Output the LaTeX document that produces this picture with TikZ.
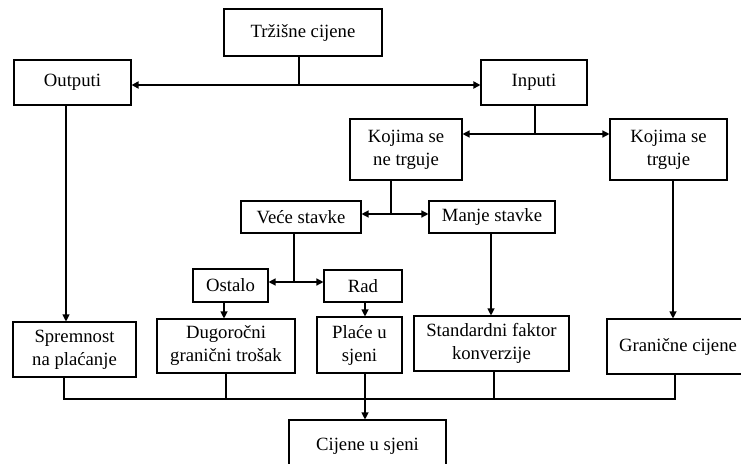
\documentclass[tikz,border=0pt]{standalone}
\usepackage{fontspec}
\setmainfont{Liberation Serif}
\usetikzlibrary{arrows.meta}
\begin{document}
\begin{tikzpicture}[x=1pt,y=-1pt,
  box/.style={draw, line width=1.1pt, inner sep=0pt, align=center,
    font=\fontsize{18.7}{23}\selectfont},
  arr/.style={-{Triangle[length=7pt,width=7pt]}, line width=1.1pt},
  biarr/.style={{Triangle[length=7pt,width=7pt]}-{Triangle[length=7pt,width=7pt]}, line width=1.3pt},
  ln/.style={line width=1.1pt}]
\useasboundingbox (0,0) rectangle (741,463);
\clip (0,0) rectangle (741,463);
\node[box, line width=2pt, minimum width=158pt, minimum height=47pt] (trz) at (303,32.5) {Tržišne cijene};
\node[box, minimum width=117pt, minimum height=45pt] (out) at (72.5,82.5) {Outputi};
\node[box, minimum width=106pt, minimum height=45pt] (inp) at (534,82.5) {Inputi};
\node[box, minimum width=112pt, minimum height=61pt] (kne) at (406,149.5) {Kojima se\\ne trguje};
\node[box, minimum width=117pt, minimum height=61pt] (ktr) at (668.5,149.5) {Kojima se\\trguje};
\node[box, minimum width=120pt, minimum height=32pt] (vec) at (301,217) {Veće stavke};
\node[box, minimum width=126pt, minimum height=32pt] (man) at (492,217) {Manje stavke};
\node[box, minimum width=75pt, minimum height=33pt] (ost) at (230.5,285.5) {Ostalo};
\node[box, minimum width=78pt, minimum height=32pt] (rad) at (363,286) {Rad};
\node[box, minimum width=123pt, minimum height=55pt] (spr) at (74.5,349.5) {Spremnost\\na plaćanje};
\node[box, minimum width=138pt, minimum height=54pt] (dug) at (226,346) {Dugoročni\\granični trošak};
\node[box, minimum width=85pt, minimum height=56pt] (pla) at (359.5,345) {Plaće u\\sjeni};
\node[box, minimum width=155pt, minimum height=55pt] (std) at (491.5,343.5) {Standardni faktor\\konverzije};
\node[box, minimum width=142pt, minimum height=55pt] (gra) at (678,346.5) {Granične cijene};
\node[box, minimum width=157pt, minimum height=52pt] (cij) at (367.5,446) {Cijene u sjeni};
% junctions
\coordinate (j1) at (299,85);
\coordinate (j2) at (535,134);
\coordinate (j3) at (391,214);
\coordinate (j4) at (294,282);
\draw[ln, line width=2pt] (j1 |- trz.south) -- (j1);
\draw[biarr, line width=2pt] (out.east |- j1) -- (inp.west |- j1);
\draw[ln] (j2 |- inp.south) -- (j2);
\draw[biarr] (kne.east |- j2) -- (ktr.west |- j2);
\draw[ln] (j3 |- kne.south) -- (j3);
\draw[biarr] (vec.east |- j3) -- (man.west |- j3);
\draw[ln] (j4 |- vec.south) -- (j4);
\draw[biarr] (ost.east |- j4) -- (rad.west |- j4);
% vertical arrows
\coordinate (v1) at (66,0);
\coordinate (v2) at (224,0);
\coordinate (v3) at (365,0);
\coordinate (v4) at (491,0);
\coordinate (v5) at (673,0);
\draw[arr] (v1 |- out.south) -- (v1 |- spr.north);
\draw[arr] (v2 |- ost.south) -- (v2 |- dug.north);
\draw[arr] (v3 |- rad.south) -- (v3 |- pla.north);
\draw[arr] (v4 |- man.south) -- (v4 |- std.north);
\draw[arr] (v5 |- ktr.south) -- (v5 |- gra.north);
% bottom bus
\coordinate (b1) at (64,399);
\coordinate (b2) at (226,399);
\coordinate (b3) at (365,399);
\coordinate (b4) at (494,399);
\coordinate (b5) at (675,399);
\draw[ln] (b1 |- spr.south) -- (b1) -- (b5) -- (b5 |- gra.south);
\draw[ln] (b2 |- dug.south) -- (b2);
\draw[ln] (b4 |- std.south) -- (b4);
\draw[ln] (b3 |- pla.south) -- (b3);
\draw[arr] (b3) -- (b3 |- cij.north);
\end{tikzpicture}
\end{document}
